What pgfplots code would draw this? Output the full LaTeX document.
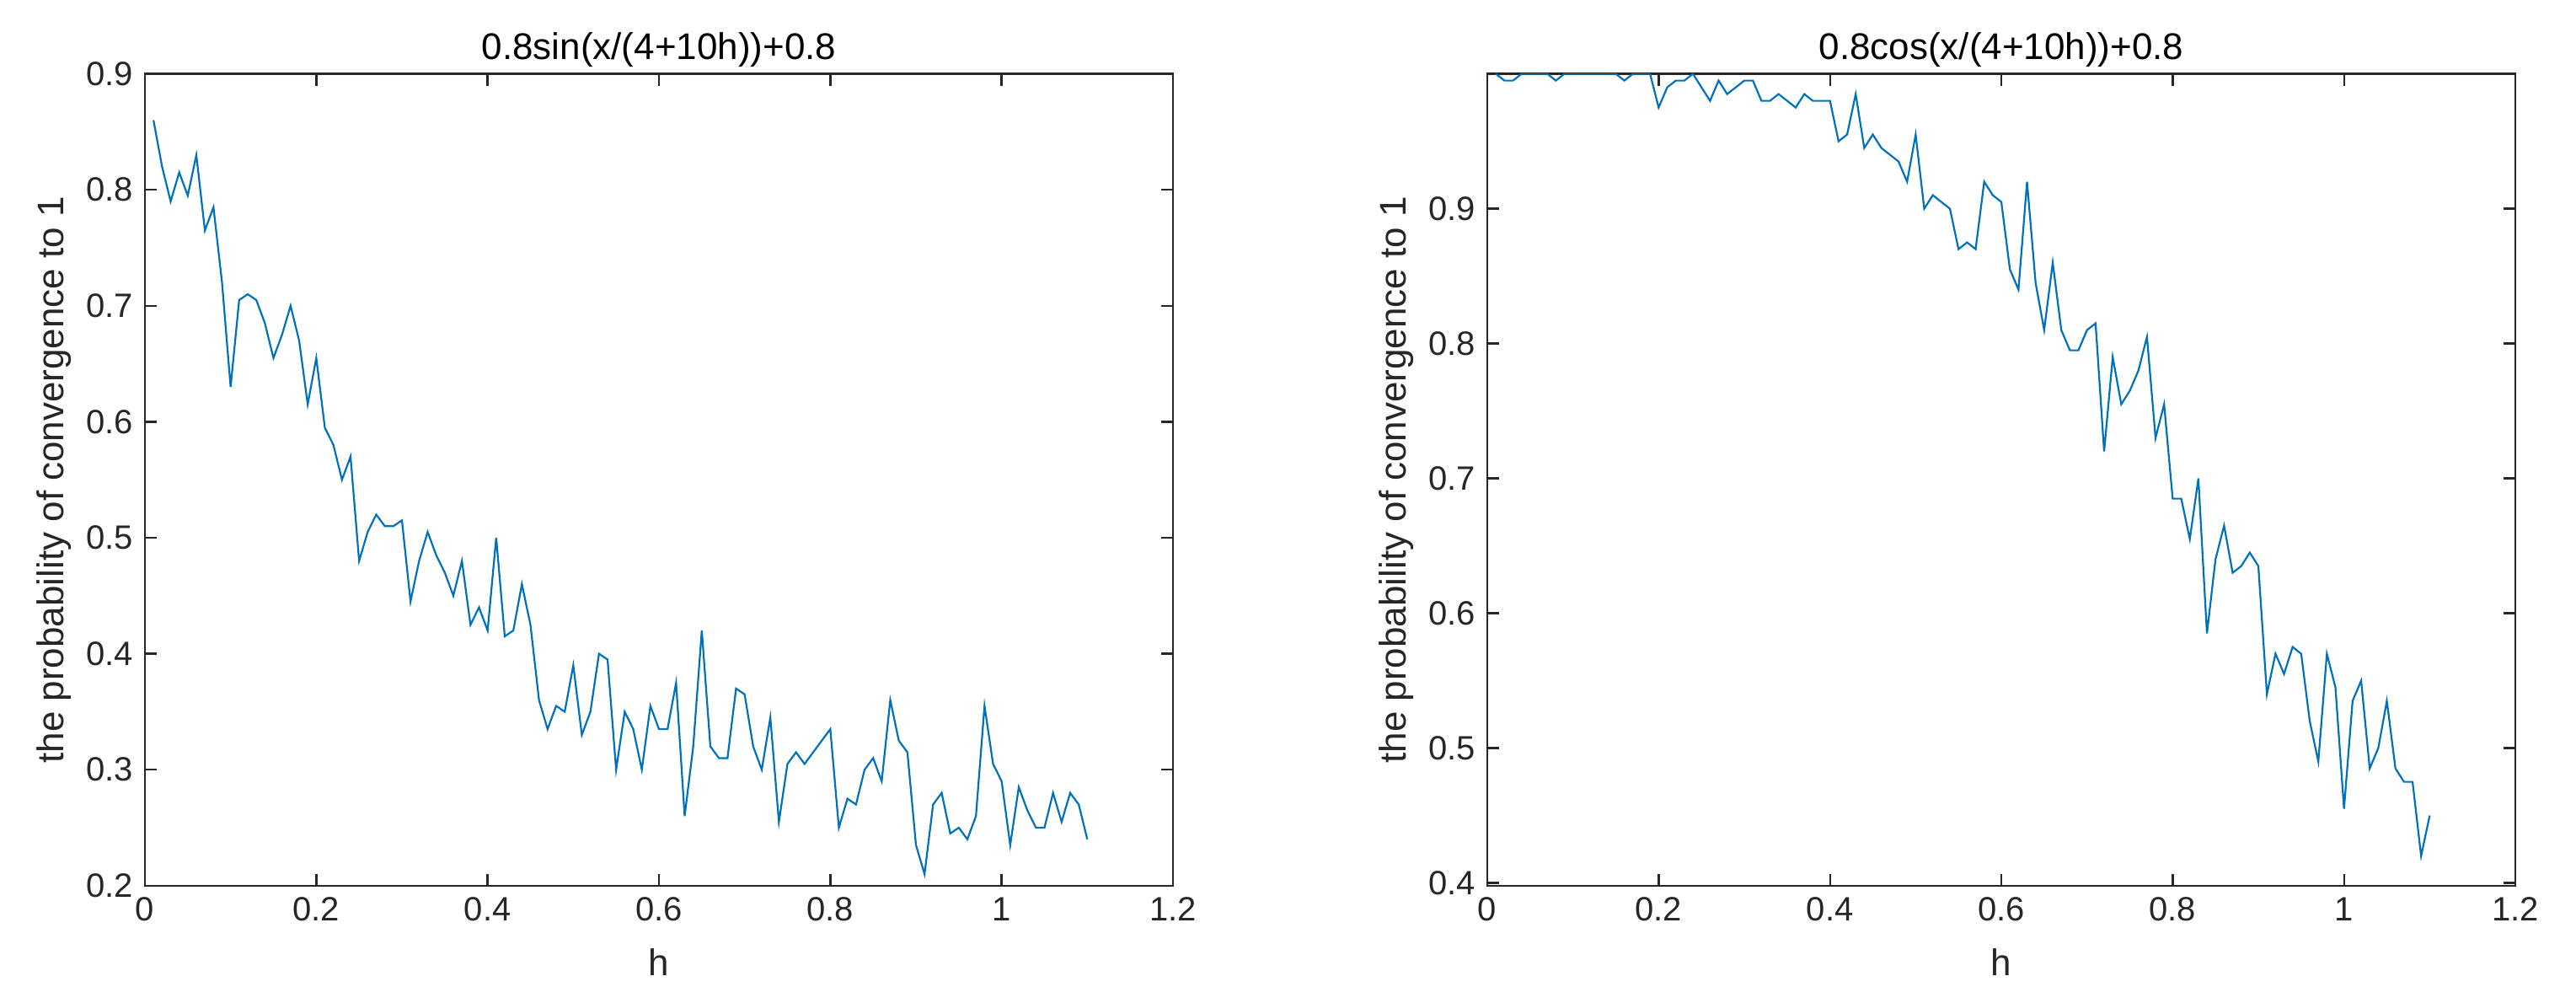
\documentclass[border=0pt]{standalone}
\usepackage{pgfplots}
\usepackage{pgfplotstable}
\usepackage{fontspec}
\setmainfont{Liberation Sans}
\pgfplotsset{compat=1.18}

\definecolor{lineCol}{RGB}{0,114,189}
\definecolor{axCol}{RGB}{38,38,38}

% probability of convergence to 1, sin case
\pgfplotstableread{
h p
0.01 0.86
0.02 0.82
0.03 0.79
0.04 0.815
0.05 0.795
0.06 0.83
0.07 0.765
0.08 0.785
0.09 0.72
0.10 0.63
0.11 0.705
0.12 0.71
0.13 0.705
0.14 0.685
0.15 0.655
0.16 0.675
0.17 0.70
0.18 0.67
0.19 0.615
0.20 0.655
0.21 0.595
0.22 0.58
0.23 0.55
0.24 0.57
0.25 0.48
0.26 0.505
0.27 0.52
0.28 0.51
0.29 0.51
0.30 0.515
0.31 0.445
0.32 0.48
0.33 0.505
0.34 0.485
0.35 0.47
0.36 0.45
0.37 0.48
0.38 0.425
0.39 0.44
0.40 0.42
0.41 0.50
0.42 0.415
0.43 0.42
0.44 0.46
0.45 0.425
0.46 0.36
0.47 0.335
0.48 0.355
0.49 0.35
0.50 0.39
0.51 0.33
0.52 0.35
0.53 0.40
0.54 0.395
0.55 0.30
0.56 0.35
0.57 0.335
0.58 0.30
0.59 0.355
0.60 0.335
0.61 0.335
0.62 0.375
0.63 0.26
0.64 0.32
0.65 0.42
0.66 0.32
0.67 0.31
0.68 0.31
0.69 0.37
0.70 0.365
0.71 0.32
0.72 0.30
0.73 0.345
0.74 0.255
0.75 0.305
0.76 0.315
0.77 0.305
0.78 0.315
0.79 0.325
0.80 0.335
0.81 0.25
0.82 0.275
0.83 0.27
0.84 0.30
0.85 0.31
0.86 0.29
0.87 0.36
0.88 0.325
0.89 0.315
0.90 0.235
0.91 0.21
0.92 0.27
0.93 0.28
0.94 0.245
0.95 0.25
0.96 0.24
0.97 0.26
0.98 0.355
0.99 0.305
1.00 0.29
1.01 0.235
1.02 0.285
1.03 0.265
1.04 0.25
1.05 0.25
1.06 0.28
1.07 0.255
1.08 0.28
1.09 0.27
1.10 0.24
}\sinTab

% cos case
\pgfplotstableread{
h p
0.01 1.0
0.02 0.995
0.03 0.995
0.04 1.0
0.05 1.0
0.06 1.0
0.07 1.0
0.08 0.995
0.09 1.0
0.10 1.0
0.11 1.0
0.12 1.0
0.13 1.0
0.14 1.0
0.15 1.0
0.16 0.995
0.17 1.0
0.18 1.0
0.19 1.0
0.20 0.975
0.21 0.99
0.22 0.995
0.23 0.995
0.24 1.0
0.25 0.99
0.26 0.98
0.27 0.995
0.28 0.985
0.29 0.99
0.30 0.995
0.31 0.995
0.32 0.98
0.33 0.98
0.34 0.985
0.35 0.98
0.36 0.975
0.37 0.985
0.38 0.98
0.39 0.98
0.40 0.98
0.41 0.95
0.42 0.955
0.43 0.985
0.44 0.945
0.45 0.955
0.46 0.945
0.47 0.94
0.48 0.935
0.49 0.92
0.50 0.955
0.51 0.90
0.52 0.91
0.53 0.905
0.54 0.90
0.55 0.87
0.56 0.875
0.57 0.87
0.58 0.92
0.59 0.91
0.60 0.905
0.61 0.855
0.62 0.84
0.63 0.92
0.64 0.845
0.65 0.81
0.66 0.86
0.67 0.81
0.68 0.795
0.69 0.795
0.70 0.81
0.71 0.815
0.72 0.72
0.73 0.79
0.74 0.755
0.75 0.765
0.76 0.78
0.77 0.805
0.78 0.73
0.79 0.755
0.80 0.685
0.81 0.685
0.82 0.655
0.83 0.70
0.84 0.585
0.85 0.64
0.86 0.665
0.87 0.63
0.88 0.635
0.89 0.645
0.90 0.635
0.91 0.54
0.92 0.57
0.93 0.555
0.94 0.575
0.95 0.57
0.96 0.52
0.97 0.49
0.98 0.57
0.99 0.545
1.00 0.455
1.01 0.535
1.02 0.55
1.03 0.485
1.04 0.50
1.05 0.535
1.06 0.485
1.07 0.475
1.08 0.475
1.09 0.42
1.10 0.45
}\cosTab

\pgfplotsset{
    octbox/.style={
        scale only axis, width=305pt, height=240.8pt,
        xmin=0, xmax=1.2, xtick={0,0.2,...,1.2},
        tick align=inside, tick pos=both,
        major tick length=3.5pt,
        axis line style={axCol, line width=0.6pt},
        every tick/.style={axCol, line width=0.6pt},
        tick label style={font=\fontsize{10}{12}\selectfont, text=axCol},
        /pgf/number format/assume math mode=true,
        xlabel={h}, ylabel={the probability of convergence to 1},
        every axis x label/.style={at={(axis description cs:0.5,-0.094)}, anchor=center,
            font=\fontsize{11}{13}\selectfont, text=axCol},
        every axis y label/.style={at={(axis description cs:-0.0885,0.5)}, rotate=90, anchor=center,
            font=\fontsize{11}{13}\selectfont, text=axCol},
        every axis title/.style={at={(axis description cs:0.5,1.03)}, anchor=center,
            font=\fontsize{11}{13}\selectfont},
    }
}

\begin{document}
\begin{tikzpicture}
    \useasboundingbox (-43pt,-34.6pt) rectangle (721.25pt,262.7pt);
    \begin{axis}[octbox, ymin=0.2, ymax=0.9, ytick={0.2,0.3,...,0.9},
        title={0.8sin(x/(4+10h))+0.8}]
        \addplot[lineCol, line width=0.55pt] table[x=h, y=p] {\sinTab};
    \end{axis}
    \begin{axis}[octbox, at={(398.25pt,0pt)}, ymin=0.398, ymax=1.0,
        ytick={0.4,0.5,...,0.9},
        title={0.8cos(x/(4+10h))+0.8}]
        \addplot[lineCol, line width=0.55pt] table[x=h, y=p] {\cosTab};
    \end{axis}
\end{tikzpicture}
\end{document}
